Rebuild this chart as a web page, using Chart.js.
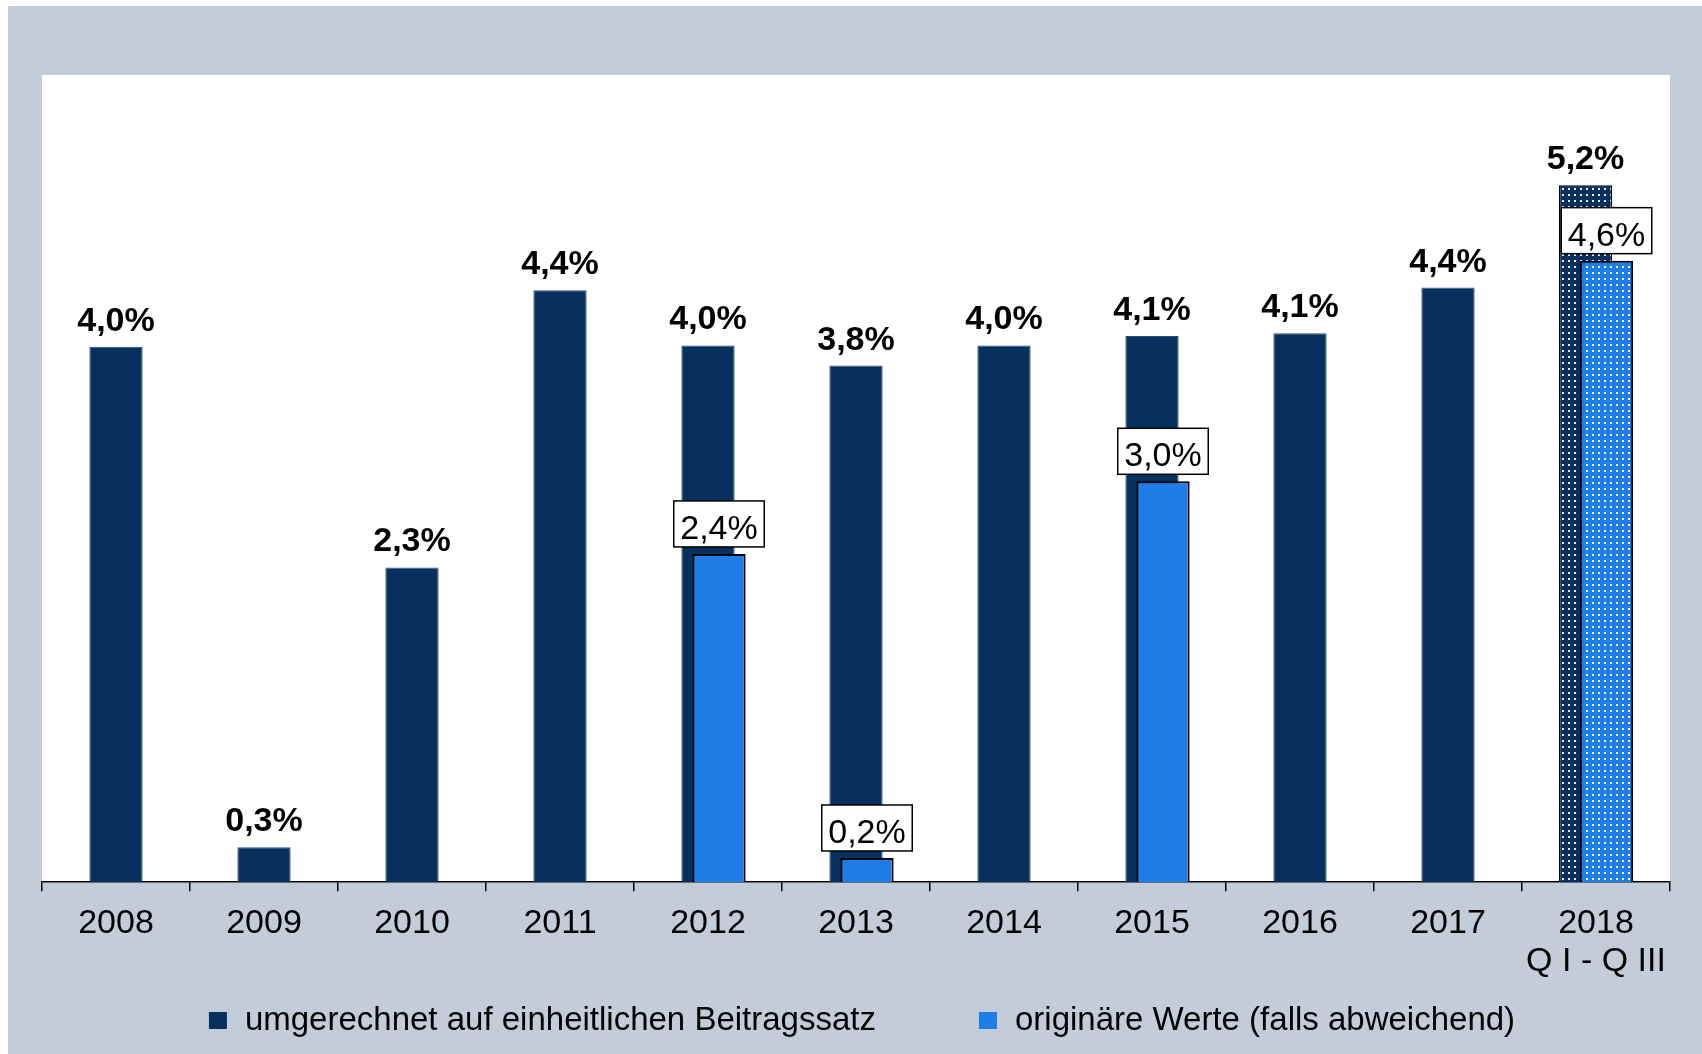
<!DOCTYPE html>
<html>
<head>
<meta charset="utf-8">
<script src="https://cdn.jsdelivr.net/npm/chart.js@4.4.1/dist/chart.umd.min.js"></script>
<style>
  html, body { margin: 0; padding: 0; background: #fff; }
  #wrap { position: relative; width: 1702px; height: 1054px; }
</style>
</head>
<body>
<div id="wrap"><canvas id="chart" width="1702" height="1054"></canvas></div>
<script>
// Daten
const categories = ['2008', '2009', '2010', '2011', '2012', '2013', '2014', '2015', '2016', '2017', ['2018', 'Q I - Q III']];
const umgerechnet = [3.98, 0.26, 2.34, 4.40, 3.99, 3.84, 3.99, 4.06, 4.08, 4.42, null];
const originaer = [null, null, null, null, 2.44, 0.18, null, 2.98, null, null, null];
const umgerechnet2018 = [null, null, null, null, null, null, null, null, null, null, 5.18];
const originaer2018 = [null, null, null, null, null, null, null, null, null, null, 4.62];
const yMax = 6;

const DARK = '#08305f';
const LIGHT = '#1f7de8';
const FONT = '"Liberation Sans", Arial, sans-serif';

function dots(base) {
    const t = document.createElement('canvas');
    t.width = 6; t.height = 6;
    const c = t.getContext('2d');
    c.fillStyle = base;
    c.fillRect(0, 0, 6, 6);
    c.fillStyle = 'rgba(255,255,255,0.9)';
    c.fillRect(2, 2, 2, 2);
    return document.getElementById('chart').getContext('2d').createPattern(t, 'repeat');
}

const fmt = v => v.toFixed(1).replace('.', ',') + '%';

// verschiebt einzelne Datenreihen seitlich (ueberlappende Balken)
const shiftPlugin = {
    id: 'shift',
    afterDatasetsUpdate(chart) {
        chart.data.datasets.forEach((ds, i) => {
            if (!ds.xShift) return;
            chart.getDatasetMeta(i).data.forEach(el => { el.x += ds.xShift; });
        });
    }
};

const bgPlugin = {
    id: 'bg',
    beforeDraw(chart) {
        const { ctx, chartArea: a } = chart;
        ctx.save();
        ctx.fillStyle = '#c3cdd9';
        ctx.fillRect(8, 6, chart.width - 8, chart.height - 6);
        ctx.fillStyle = '#ffffff';
        ctx.fillRect(a.left, a.top, a.right - a.left, a.bottom - a.top);
        ctx.restore();
    }
};

const labelPlugin = {
    id: 'labels',
    afterDatasetsDraw(chart) {
        const ctx = chart.ctx;
        ctx.save();
        ctx.textAlign = 'center';
        ctx.textBaseline = 'alphabetic';
        chart.data.datasets.forEach((ds, i) => {
            const meta = chart.getDatasetMeta(i);
            meta.data.forEach((el, j) => {
                const v = ds.data[j];
                if (v == null) return;
                const txt = fmt(v);
                if (ds.labelBox) {
                    ctx.font = '34px ' + FONT;
                    const w = ctx.measureText(txt).width + 13;
                    const base = el.y - 15;
                    ctx.fillStyle = '#fff';
                    ctx.fillRect(el.x - w / 2, base - 38, w, 46);
                    ctx.strokeStyle = '#000';
                    ctx.lineWidth = 1.5;
                    ctx.strokeRect(el.x - w / 2, base - 38, w, 46);
                    ctx.fillStyle = '#000';
                    ctx.fillText(txt, el.x, base);
                } else {
                    ctx.font = 'bold 34px ' + FONT;
                    ctx.fillStyle = '#000';
                    ctx.fillText(txt, el.x, el.y - 16);
                }
            });
        });
        ctx.restore();
    }
};

const legendPlugin = {
    id: 'ownLegend',
    afterDraw(chart) {
        const { ctx, chartArea: a } = chart;
        const items = chart.data.datasets.filter(ds => ds.inLegend);
        ctx.save();
        ctx.font = '33px ' + FONT;
        const box = 18, gap = 18, between = 103;
        const widths = items.map(ds => box + gap + ctx.measureText(ds.label).width);
        const total = widths.reduce((s, w) => s + w, 0) + between * (items.length - 1);
        let x = (a.left + a.right) / 2 + 6 - total / 2;
        const y = 1021;
        ctx.textBaseline = 'middle';
        ctx.textAlign = 'left';
        items.forEach((ds, i) => {
            ctx.fillStyle = ds.backgroundColor;
            ctx.fillRect(x, y - 9, box, 17);
            ctx.fillStyle = '#000';
            ctx.fillText(ds.label, x + box + gap, y);
            x += widths[i] + between;
        });
        ctx.restore();
    }
};

const common = { barPercentage: 0.36, categoryPercentage: 1 };

new Chart(document.getElementById('chart'), {
    type: 'bar',
    data: {
        labels: categories,
        datasets: [
            { ...common, label: 'umgerechnet auf einheitlichen Beitragssatz', data: umgerechnet,
              backgroundColor: DARK, borderColor: '#2c4e7e', borderWidth: 1, order: 2, inLegend: true },
            { ...common, label: 'originäre Werte (falls abweichend)', data: originaer,
              backgroundColor: LIGHT, borderColor: '#000', borderWidth: 2, order: 1, xShift: 11, labelBox: true, inLegend: true },
            { ...common, label: 'umgerechnet 2018', data: umgerechnet2018,
              backgroundColor: dots(DARK), borderColor: '#000', borderWidth: 1.5, order: 2, xShift: -10.5 },
            { ...common, label: 'originär 2018', data: originaer2018,
              backgroundColor: dots(LIGHT), borderColor: '#000', borderWidth: 2, order: 1, xShift: 10.5, labelBox: true }
        ]
    },
    options: {
        responsive: false,
        animation: false,
        layout: { padding: { left: 42, right: 32, top: 75, bottom: 60 } },
        datasets: { bar: { grouped: false } },
        plugins: { legend: { display: false }, tooltip: { enabled: false } },
        scales: {
            x: {
                offset: true,
                grid: { offset: true, drawOnChartArea: false, drawTicks: true, tickLength: 9, color: '#000', lineWidth: 1.5 },
                border: { display: true, color: '#000', width: 1.5 },
                ticks: { color: '#000', padding: 14, autoSkip: false, maxRotation: 0,
                         font: { family: FONT, size: 34, lineHeight: 1.1 } }
            },
            y: { display: false, min: 0, max: yMax }
        }
    },
    plugins: [shiftPlugin, bgPlugin, labelPlugin, legendPlugin]
});
</script>
</body>
</html>
